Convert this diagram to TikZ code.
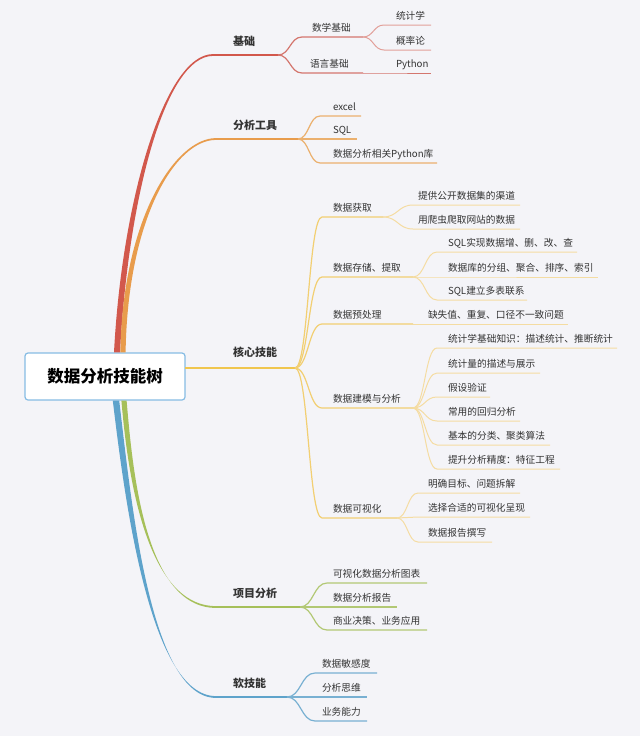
\documentclass[tikz,border=0pt]{standalone}
\usepackage{fontspec}
\setmainfont{Noto Sans CJK SC}
\usetikzlibrary{calc}
\definecolor{bg}{HTML}{F4F4F8}
\definecolor{txt}{HTML}{333333}
\definecolor{rootc}{HTML}{86BCE4}
\definecolor{redM}{HTML}{D2584C}
\definecolor{redS}{HTML}{D4766E}
\definecolor{redSS}{HTML}{E2A09A}
\definecolor{orM}{HTML}{E89C4C}
\definecolor{orS}{HTML}{EBB06E}
\definecolor{yeM}{HTML}{F0C64E}
\definecolor{yeS}{HTML}{F2CF72}
\definecolor{yeSS}{HTML}{F4DCA2}
\definecolor{grM}{HTML}{A6C05A}
\definecolor{grS}{HTML}{B2C874}
\definecolor{blM}{HTML}{5EA3CB}
\definecolor{blS}{HTML}{78B0D2}
\newcommand\tn[7]{\node[#1,text width=#6pt] (#2) at (#3,#4) {\hspace*{#5pt}#7};}
\newcommand\cn[4]{\draw[#1] (#2.south east) .. controls +(#4,0) and +(-#4,0) .. (#3.south west) -- (#3.south east);}
\newcommand\taper[6]{\fill[#1] ($(#2)+(-#5,0)$) .. controls +#3 and +#4 .. ($(#6)+(0,-0.9)$) -- ($(#6)+(0,0.9)$) .. controls +#4 and +#3 .. ($(#2)+(#5,0)$) -- cycle;}
\begin{document}
\begin{tikzpicture}[x=1pt,y=-1pt,
  lbl/.style={anchor=south west, inner xsep=0pt, outer sep=0pt, text depth=0pt, align=left, text=txt},
  mainlbl/.style={lbl, inner ysep=10pt, font=\fontsize{11}{13}\selectfont\bfseries},
  sublbl/.style={lbl, inner ysep=5.5pt, font=\fontsize{9.7}{12}\selectfont},
  rootbox/.style={minimum width=160pt, minimum height=47pt, inner sep=0pt, draw=rootc, line width=1.2pt, fill=white, rounded corners=3pt, text=black, font=\fontsize{16.5}{20}\selectfont\bfseries},
  mline/.style={line width=1.8pt, line cap=round},
  sline/.style={line width=1.2pt},
  ssline/.style={line width=1pt}]
\fill[bg] (0,0) rectangle (640,736);
\useasboundingbox (0,0) rectangle (640,736);

% root
\node[rootbox] (root) at (105,376.5) {数据分析技能树};
\coordinate (rA) at ([xshift=12pt]root.north);
\coordinate (rB) at ([xshift=18pt]root.north);
\coordinate (rC) at ([xshift=19pt]root.south);
\coordinate (rD) at ([xshift=11pt]root.south);

% ---------- red: 基础
\tn{mainlbl}{ji}{213}{55}{20}{65}{基础}
\tn{sublbl}{sx}{302}{37}{10}{61}{数学基础}
\tn{sublbl}{yy}{302}{73}{8}{61}{语言基础}
\tn{sublbl}{tj}{384}{25}{12}{47}{统计学}
\tn{sublbl}{gl}{384}{50}{12}{47}{概率论}
\tn{sublbl}{py}{384}{73}{12}{47}{Python}
\taper{redM}{rA}{(8,-153)}{(-48,0)}{3}{ji.south west}
\draw[redM,mline] (ji.south west) -- (ji.south east);
\cn{redS,sline}{ji}{sx}{12}
\cn{redS,sline}{ji}{yy}{12}
\cn{redSS,ssline}{sx}{tj}{10.5}
\cn{redSS,ssline}{sx}{gl}{10.5}
\cn{redS,ssline}{yy}{py}{10.5}

% ---------- orange: 分析工具
\tn{mainlbl}{gj}{216}{139}{17}{82}{分析工具}
\tn{sublbl}{ex}{320}{116}{13}{41}{excel}
\tn{sublbl}{sq}{320}{139}{13}{37}{SQL}
\tn{sublbl}{pl}{320}{163}{13}{117}{数据分析相关Python库}
\taper{orM}{rB}{(2,-133)}{(-41,0)}{2.6}{gj.south west}
\draw[orM,mline] (gj.south west) -- (gj.south east);
\cn{orS,sline}{gj}{ex}{11}
\cn{orS,sline}{gj}{sq}{11}
\cn{orS,sline}{gj}{pl}{11}

% ---------- yellow: 核心技能
\tn{mainlbl,inner ysep=12pt}{hx}{185}{368}{48}{110}{核心技能}
\draw[yeM,line width=2pt] (hx.south west) -- (hx.south east);
\tn{sublbl}{hq}{322}{217}{11}{61}{数据获取}
\tn{sublbl}{t1}{413}{205}{5}{107}{提供公开数据集的渠道}
\tn{sublbl}{t2}{413}{229}{5}{107}{用爬虫爬取网站的数据}
\tn{sublbl}{cc}{322}{277}{11}{91}{数据存储、提取}
\tn{sublbl}{c1}{437}{252}{11}{140}{SQL实现数据增、删、改、查}
\tn{sublbl}{c2}{437}{277}{11}{161}{数据库的分组、聚合、排序、索引}
\tn{sublbl}{c3}{437}{300}{11}{90}{SQL建立多表联系}
\tn{sublbl}{yc}{322}{324}{11}{91}{数据预处理}
\tn{sublbl}{q1}{413}{324}{15}{155}{缺失值、重复、口径不一致问题}
\tn{sublbl}{jm}{322}{408}{11}{91}{数据建模与分析}
\tn{sublbl}{m1}{437}{348}{11}{180}{统计学基础知识：描述统计、推断统计}
\tn{sublbl}{m2}{437}{373}{11}{103}{统计量的描述与展示}
\tn{sublbl}{m3}{437}{397}{11}{53}{假设验证}
\tn{sublbl}{m4}{437}{421}{11}{83}{常用的回归分析}
\tn{sublbl}{m5}{437}{445}{11}{113}{基本的分类、聚类算法}
\tn{sublbl}{m6}{437}{469}{11}{123}{提升分析精度：特征工程}
\tn{sublbl}{ks}{322}{518}{11}{75}{数据可视化}
\tn{sublbl}{v1}{418}{493}{10}{102}{明确目标、问题拆解}
\tn{sublbl}{v2}{418}{517}{10}{112}{选择合适的可视化呈现}
\tn{sublbl}{v3}{418}{542}{10}{74}{数据报告撰写}
\cn{yeS,sline}{hx}{hq}{13.5}
\cn{yeS,sline}{hx}{cc}{13.5}
\cn{yeS,sline}{hx}{yc}{13.5}
\cn{yeS,sline}{hx}{jm}{13.5}
\cn{yeS,sline}{hx}{ks}{13.5}
\cn{yeSS,ssline}{hq}{t1}{15}
\cn{yeSS,ssline}{hq}{t2}{15}
\cn{yeSS,ssline}{cc}{c1}{12}
\cn{yeSS,ssline}{cc}{c2}{12}
\cn{yeSS,ssline}{cc}{c3}{12}
\cn{yeSS,ssline}{yc}{q1}{1}
\cn{yeSS,ssline}{jm}{m1}{12}
\cn{yeSS,ssline}{jm}{m2}{12}
\cn{yeSS,ssline}{jm}{m3}{12}
\cn{yeSS,ssline}{jm}{m4}{12}
\cn{yeSS,ssline}{jm}{m5}{12}
\cn{yeSS,ssline}{jm}{m6}{12}
\cn{yeSS,ssline}{ks}{v1}{10.5}
\cn{yeSS,ssline}{ks}{v2}{10.5}
\cn{yeSS,ssline}{ks}{v3}{10.5}

% ---------- green: 项目分析
\tn{mainlbl}{xm}{216}{607}{17}{84}{项目分析}
\tn{sublbl}{x1}{327}{583}{6}{100}{可视化数据分析图表}
\tn{sublbl}{x2}{327}{607}{6}{70}{数据分析报告}
\tn{sublbl}{x3}{327}{630}{6}{100}{商业决策、业务应用}
\taper{grM}{rC}{(6,70)}{(-71,0)}{2.6}{xm.south west}
\draw[grM,mline] (xm.south west) -- (xm.south east);
\cn{grS,sline}{xm}{x1}{13.5}
\cn{grS,sline}{xm}{x2}{13.5}
\cn{grS,sline}{xm}{x3}{13.5}

% ---------- blue: 软技能
\tn{mainlbl}{rj}{216}{697}{17}{71}{软技能}
\tn{sublbl}{r1}{315}{673}{7}{62}{数据敏感度}
\tn{sublbl}{r2}{315}{697}{7}{52}{分析思维}
\tn{sublbl}{r3}{315}{721}{7}{52}{业务能力}
\taper{blM}{rD}{(12,100)}{(-66,0)}{3.2}{rj.south west}
\draw[blM,mline] (rj.south west) -- (rj.south east);
\cn{blS,sline}{rj}{r1}{14}
\cn{blS,sline}{rj}{r2}{14}
\cn{blS,sline}{rj}{r3}{14}
\end{tikzpicture}
\end{document}
